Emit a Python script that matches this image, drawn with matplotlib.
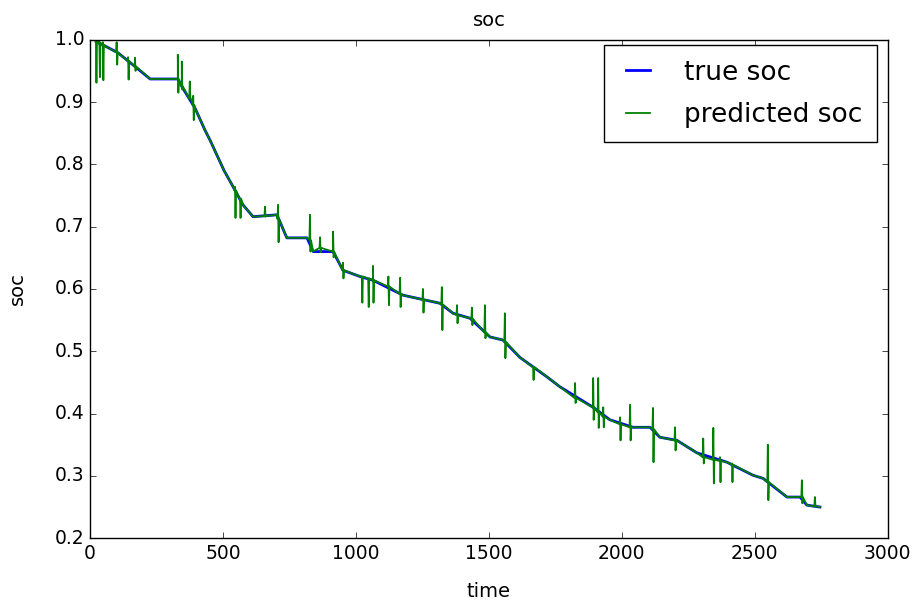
import numpy as np
import matplotlib
matplotlib.use("Agg")
import matplotlib.pyplot as plt

# true soc
true_time = [30, 56, 105, 169, 226, 330, 345, 395, 432, 451, 504, 538, 575, 613,
             703, 740, 816, 839, 914, 951, 1015, 1064, 1177, 1316, 1365, 1429,
             1504, 1553, 1617, 1718, 1767, 1892, 1955, 2042, 2106, 2143, 2207,
             2282, 2395, 2493, 2531, 2621, 2670, 2696, 2745]
true_soc = [0.995, 0.99, 0.979, 0.957, 0.937, 0.937, 0.925, 0.89, 0.855, 0.839,
            0.79, 0.764, 0.735, 0.716, 0.719, 0.682, 0.682, 0.66, 0.66, 0.63,
            0.62, 0.614, 0.59, 0.577, 0.561, 0.553, 0.523, 0.518, 0.49, 0.459,
            0.443, 0.41, 0.39, 0.378, 0.378, 0.362, 0.357, 0.337, 0.322, 0.301,
            0.296, 0.266, 0.266, 0.253, 0.25]

# prediction spikes: time, top, bottom, value on the curve around it
spike_time = [22, 35, 48, 100, 143, 169, 330, 345, 375, 388, 545, 564, 658, 707,
              827, 865, 914, 951, 1022, 1046, 1064, 1122, 1166, 1252, 1323, 1380,
              1436, 1485, 1560, 1666, 1824, 1892, 1911, 1930, 1993, 2031, 2117,
              2200, 2306, 2344, 2369, 2414, 2549, 2677, 2726]
spike_high = [1.0, 0.998, 0.996, 0.996, 0.972, 0.971, 0.976, 0.965, 0.933, 0.91,
              0.764, 0.745, 0.732, 0.735, 0.719, 0.683, 0.692, 0.642, 0.619, 0.614,
              0.637, 0.62, 0.618, 0.6, 0.603, 0.574, 0.57, 0.574, 0.561, 0.475,
              0.449, 0.457, 0.457, 0.41, 0.394, 0.414, 0.409, 0.378, 0.36, 0.377,
              0.33, 0.32, 0.35, 0.293, 0.266]
spike_low = [0.931, 0.94, 0.935, 0.96, 0.936, 0.95, 0.915, 0.92, 0.908, 0.871,
             0.714, 0.714, 0.716, 0.675, 0.66, 0.659, 0.651, 0.617, 0.578, 0.571,
             0.578, 0.574, 0.571, 0.562, 0.534, 0.545, 0.542, 0.521, 0.489, 0.454,
             0.417, 0.39, 0.377, 0.378, 0.357, 0.357, 0.322, 0.341, 0.32, 0.288,
             0.29, 0.29, 0.261, 0.256, 0.253]
spike_base = [0.997, 0.995, 0.992, 0.98, 0.966, 0.957, 0.937, 0.925, 0.905, 0.895,
              0.758, 0.745, 0.717, 0.712, 0.678, 0.666, 0.66, 0.63, 0.62, 0.617,
              0.614, 0.604, 0.592, 0.583, 0.575, 0.558, 0.552, 0.53, 0.515, 0.475,
              0.425, 0.41, 0.402, 0.395, 0.383, 0.378, 0.375, 0.357, 0.33, 0.326,
              0.324, 0.318, 0.29, 0.266, 0.251]

# predicted soc = true curve with the spikes put in
st = np.array(spike_time, dtype=float)
pt = np.concatenate([true_time, st - 2, st, st + 2, st + 4])
pv = np.concatenate([true_soc, spike_base, spike_high, spike_low, spike_base])
order = np.argsort(pt, kind="stable")
pred_time, pred_soc = pt[order], pv[order]

plt.style.use("classic")
plt.rcParams["figure.facecolor"] = "white"
plt.rcParams["savefig.facecolor"] = "white"
plt.rcParams["font.size"] = 13.5

fig = plt.figure(figsize=(9.19, 6.02), dpi=100)
ax = fig.add_axes([0.098, 0.106, 0.868, 0.828])

ax.plot(true_time, true_soc, "b", linewidth=2, label="true soc")
ax.plot(pred_time, pred_soc, "g", linewidth=1.3, label="predicted soc")

ax.set_xlim(0, 3000)
ax.set_ylim(0.2, 1.0)
ax.set_xticks(np.arange(0, 3001, 500))
ax.set_yticks(np.arange(0.2, 1.01, 0.1))
ax.set_yticklabels(["%.1f" % v for v in np.arange(0.2, 1.01, 0.1)])
ax.tick_params(labelsize=13.5)
ax.set_title("soc", fontsize=14, pad=10)
ax.set_xlabel("time", fontsize=14, labelpad=14)
ax.set_ylabel("soc", fontsize=14, labelpad=20)
ax.legend(loc="upper right", bbox_to_anchor=(877 / 919, 1 - 45 / 602),
          bbox_transform=fig.transFigure, borderaxespad=0,
          fontsize=19, handlelength=1.5, handletextpad=1.0,
          borderpad=0.55, labelspacing=0.62)

fig.savefig("out.png", dpi=100)
